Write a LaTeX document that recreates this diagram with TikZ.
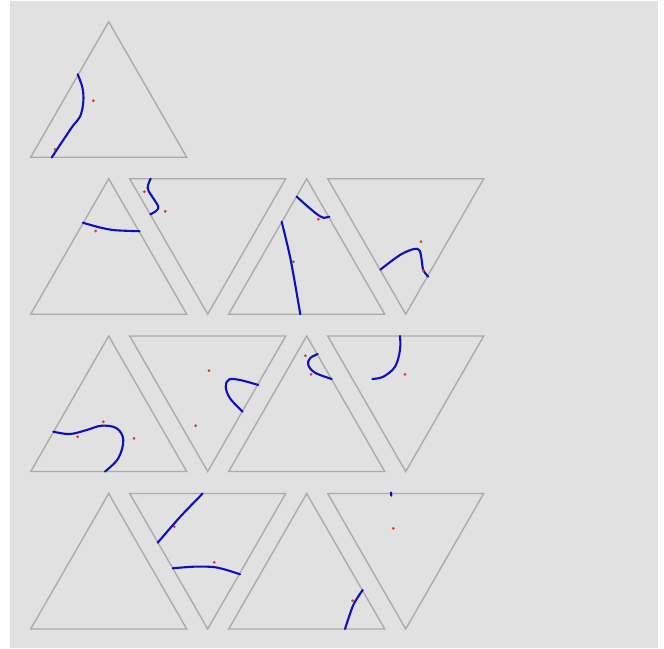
\documentclass[tikz,border=0pt]{standalone}
\begin{document}
\begin{tikzpicture}[x=1pt,y=-1pt,
  tri/.style={draw=triGray,line width=1.4pt,line join=miter},
  crv/.style={draw=crvBlue,line width=2.1pt,line cap=round},
  dotr/.style={fill=dotRed}]
\definecolor{bgGray}{HTML}{E1E1E1}
\definecolor{triGray}{HTML}{ABABAB}
\definecolor{crvBlue}{HTML}{1010B8}
\definecolor{dotRed}{HTML}{D23C28}
\useasboundingbox (0,0) rectangle (664,648);
\fill[white] (0,0) rectangle (664,648);
\fill[bgGray] (10,1) rectangle (658,648);
% triangles: side 156, height 135.5
\newcommand{\uptri}[2]{\draw[tri] (#1,#2) -- ++(78,135.5) -- ++(-156,0) -- cycle;}
\newcommand{\dntri}[2]{\draw[tri] (#1,#2) -- ++(-78,-135.5) -- ++(156,0) -- cycle;}
% row 1
\uptri{108.7}{21.7}
% rows 2-4
\foreach \t in {178.7,336,493.5}{
  \pgfmathsetmacro{\b}{\t+135.5}
  \uptri{108.7}{\t}
  \dntri{207.7}{\b}
  \uptri{306.7}{\t}
  \dntri{405.7}{\b}
}
% T1
\draw[crv] plot[smooth,tension=0.6] coordinates {(77.7,74.3) (82.5,88) (83.3,102) (80,116.7) (71.7,127.5) (51.7,157.5)};
\fill[dotr] (93.3,100.7) circle (1.5);
\fill[dotr] (55,149.3) circle (1.5);
% T2
\draw[crv] plot[smooth] coordinates {(82.8,222.7) (100,227.5) (115,230.2) (139.6,231.2)};
\fill[dotr] (95.7,231) circle (1.5);
% T3
\draw[crv] plot[smooth,tension=0.6] coordinates {(150.7,178.7) (147.7,188.3) (153.3,198.3) (158.3,206.7) (156,211) (150.3,214.3)};
\fill[dotr] (144.3,191.7) circle (1.5);
\fill[dotr] (165.3,211.3) circle (1.5);
% T4
\draw[crv] plot[smooth] coordinates {(296.7,196.7) (306,205) (316.7,214) (323.3,217.7) (329.3,216.7)};
\fill[dotr] (318.3,219.3) circle (1.5);
\draw[crv] plot[smooth] coordinates {(281.7,221.7) (290.7,260) (300.3,314.2)};
\fill[dotr] (293.3,261.7) circle (1.5);
% T5
\draw[crv] plot[smooth,tension=0.6] coordinates {(380.3,269.7) (400,255) (414,249) (419.5,250.5) (421.7,260) (423.3,270) (428.3,276.7)};
\fill[dotr] (421,241.7) circle (1.5);
\fill[dotr] (423.3,270.7) circle (1.5);
% T6
\draw[crv] plot[smooth,tension=0.6] coordinates {(53.3,431.7) (70,434) (86.7,430) (101.7,425.7) (116.7,428.3) (123.3,440) (118.3,458.3) (105,471.5)};
\fill[dotr] (77.7,436.7) circle (1.5);
\fill[dotr] (103.3,421.7) circle (1.5);
\fill[dotr] (134,438.3) circle (1.5);
% T7
\draw[crv] plot[smooth,tension=0.6] coordinates {(258.3,385) (240,380) (229,379.5) (225.7,386.7) (230,398.3) (242.7,411.7)};
\fill[dotr] (209,370.7) circle (1.5);
\fill[dotr] (195.7,425.7) circle (1.5);
% T8
\draw[crv] plot[smooth,tension=0.6] coordinates {(317.7,354) (310,358.3) (308.3,365) (315,372.7) (331.7,379)};
\fill[dotr] (305.3,355.7) circle (1.5);
\fill[dotr] (311,374.3) circle (1.5);
% T9
\draw[crv] plot[smooth,tension=0.6] coordinates {(400,336) (400,350) (395,366.7) (383.3,376.7) (372.3,379)};
\fill[dotr] (405,374.3) circle (1.5);
% T11
\draw[crv] plot[smooth] coordinates {(202.7,493.5) (180,517) (157.7,542.7)};
\fill[dotr] (174.3,526.7) circle (1.5);
\draw[crv] plot[smooth] coordinates {(172.7,568.3) (193.3,566.7) (213.3,567) (226.7,570) (240,574.3)};
\fill[dotr] (214.3,562.3) circle (1.5);
% T12
\draw[crv] plot[smooth] coordinates {(362.7,590) (353.3,605) (345,629)};
\fill[dotr] (352.7,600.7) circle (1.5);
% T13
\draw[crv] (391,492.5) -- (391.3,495.7);
\fill[dotr] (393.3,528.3) circle (1.5);
\end{tikzpicture}
\end{document}
